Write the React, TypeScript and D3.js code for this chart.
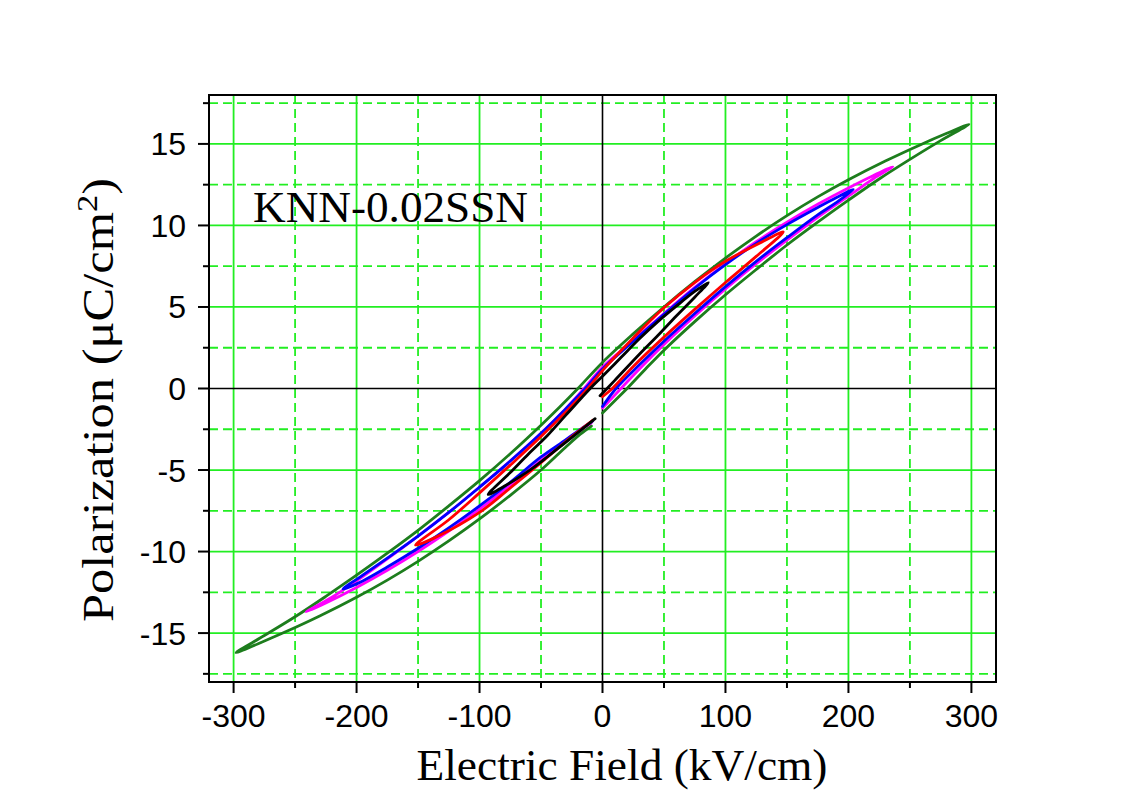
import React from "react";
import * as d3 from "d3";

type Pt = [number, number];

// Tick values (kV/cm and µC/cm²)
const xMajorTicks = [-300, -200, -100, 0, 100, 200, 300];
const xMinorTicks = [-250, -150, -50, 50, 150, 250];
const yMajorTicks = [-15, -10, -5, 0, 5, 10, 15];
const yMinorTicks = [-17.5, -12.5, -7.5, -2.5, 2.5, 7.5, 12.5, 17.5];

// Each P–E loop is recorded as: rise (0 → +Emax), fall (+Emax → −Emax), return (−Emax → 0)
const greenRise: Pt[] = [[0, -1.5], [10, -0.75], [20, 0], [35, 1.2], [50, 2.35], [75, 4.1], [100, 5.75], [125, 7.3], [150, 8.8], [175, 10.2], [200, 11.55], [225, 12.85], [250, 14.05], [275, 15.2], [298, 16.2]];
const greenFall: Pt[] = [[280, 15.65], [260, 15.0], [230, 13.95], [200, 12.8], [175, 11.75], [150, 10.6], [125, 9.35], [100, 8.0], [75, 6.55], [50, 5.0], [25, 3.35], [0, 1.6], [-20, 0], [-35, -1.15], [-50, -2.25], [-75, -4.0], [-100, -5.65], [-125, -7.2], [-150, -8.7], [-175, -10.1], [-200, -11.45], [-225, -12.75], [-250, -14.0], [-275, -15.15], [-298, -16.2]];
const greenReturn: Pt[] = [[-280, -15.65], [-260, -15.0], [-230, -13.95], [-200, -12.8], [-175, -11.75], [-150, -10.6], [-125, -9.35], [-100, -8.0], [-75, -6.55], [-50, -5.0], [-30, -3.6], [-18, -2.8], [-9, -2.3]];

const magentaRise: Pt[] = [[0, -1.2], [15, 0], [30, 1.2], [50, 2.7], [75, 4.45], [100, 6.1], [125, 7.65], [150, 9.1], [175, 10.5], [200, 11.8], [220, 12.85], [236, 13.6]];
const magentaFall: Pt[] = [[220, 13.05], [200, 12.3], [175, 11.3], [150, 10.2], [125, 9.0], [100, 7.65], [75, 6.2], [50, 4.6], [25, 2.95], [0, 1.3], [-15, 0], [-30, -1.25], [-50, -2.75], [-75, -4.45], [-100, -6.05], [-125, -7.6], [-150, -9.05], [-175, -10.45], [-200, -11.8], [-220, -12.8], [-241, -13.7]];
const magentaReturn: Pt[] = [[-225, -13.15], [-200, -12.2], [-175, -11.15], [-150, -10.0], [-125, -8.75], [-100, -7.4], [-75, -5.95], [-50, -4.4], [-30, -3.2], [-17, -2.5], [-9, -2.1]];

const blueRise: Pt[] = [[0, -1.1], [11, 0], [30, 1.45], [50, 2.9], [75, 4.6], [100, 6.25], [125, 7.8], [150, 9.25], [175, 10.65], [190, 11.4], [204, 12.2]];
const blueFall: Pt[] = [[190, 11.7], [175, 11.1], [150, 10.05], [125, 8.9], [100, 7.6], [75, 6.15], [50, 4.55], [25, 2.9], [0, 1.2], [-14, 0], [-30, -1.25], [-50, -2.75], [-75, -4.45], [-100, -6.05], [-125, -7.6], [-150, -9.05], [-175, -10.4], [-195, -11.45], [-211, -12.3]];
const blueReturn: Pt[] = [[-195, -11.8], [-175, -10.95], [-150, -9.8], [-125, -8.55], [-100, -7.2], [-75, -5.75], [-50, -4.2], [-30, -3.15], [-16, -2.4], [-8, -2.0]];

const redRise: Pt[] = [[0, -0.5], [8, 0], [25, 1.35], [50, 3.15], [75, 4.85], [100, 6.5], [125, 8.1], [147, 9.6]];
const redFall: Pt[] = [[130, 9.0], [100, 7.8], [75, 6.5], [50, 4.95], [25, 3.1], [0, 1.1], [-12, 0], [-30, -1.45], [-50, -2.95], [-75, -4.7], [-100, -6.4], [-125, -8.05], [-152, -9.6]];
const redReturn: Pt[] = [[-135, -9.1], [-100, -7.6], [-75, -6.1], [-50, -4.55], [-25, -2.95], [-8, -1.95]];

const blackRise: Pt[] = [[-2, -0.45], [10, 0.5], [30, 2.1], [45, 3.25], [60, 4.45], [75, 5.6], [86, 6.5]];
const blackFall: Pt[] = [[75, 5.95], [60, 5.05], [45, 4.1], [30, 3.05], [15, 1.9], [0, 0.75], [-10, 0], [-30, -1.65], [-45, -2.9], [-60, -4.0], [-75, -5.15], [-93, -6.5]];
const blackReturn: Pt[] = [[-80, -6.0], [-60, -5.05], [-45, -4.2], [-30, -3.3], [-15, -2.4], [-6, -1.85]];

const loops = [
  { name: "green", color: "#1d7d1d", pts: [...greenRise, ...greenFall, ...greenReturn] },
  { name: "magenta", color: "#ff00ff", pts: [...magentaRise, ...magentaFall, ...magentaReturn] },
  { name: "blue", color: "#0000ff", pts: [...blueRise, ...blueFall, ...blueReturn] },
  { name: "red", color: "#ff0000", pts: [...redRise, ...redFall, ...redReturn] },
  { name: "black", color: "#000000", pts: [...blackRise, ...blackFall, ...blackReturn] },
];

const W = 1143;
const H = 808;
const L = 209, R = 996, T = 95, B = 682;

const sans = "'Liberation Sans', Arial, sans-serif";
const serif = "'Liberation Serif', 'Times New Roman', serif";
const gridColor = "#22ee22";

export default function App() {
  const x = d3.scaleLinear().domain([-320, 320]).range([L, R]);
  const y = d3.scaleLinear().domain([-18, 18]).range([B, T]);
  const line = d3
    .line<Pt>()
    .x((d) => x(d[0]))
    .y((d) => y(d[1]))
    .curve(d3.curveCatmullRom.alpha(0.5));

  return (
    <svg
      width={W}
      height={H}
      style={{ position: "absolute", left: 0, top: 0, background: "#fff" }}
    >
      <defs>
        <clipPath id="plot">
          <rect x={L} y={T} width={R - L} height={B - T} />
        </clipPath>
      </defs>

      {/* grid */}
      <g stroke={gridColor} strokeWidth={1.8} fill="none">
        {xMajorTicks.filter((v) => v !== 0).map((v) => (
          <line key={"xg" + v} x1={x(v)} x2={x(v)} y1={T} y2={B} />
        ))}
        {yMajorTicks.filter((v) => v !== 0).map((v) => (
          <line key={"yg" + v} x1={L} x2={R} y1={y(v)} y2={y(v)} />
        ))}
        {xMinorTicks.map((v) => (
          <line key={"xm" + v} x1={x(v)} x2={x(v)} y1={T} y2={B} strokeDasharray="9,5" />
        ))}
        {yMinorTicks.map((v) => (
          <line key={"ym" + v} x1={L} x2={R} y1={y(v)} y2={y(v)} strokeDasharray="9,5" />
        ))}
      </g>

      {/* zero lines */}
      <g stroke="#000" strokeWidth={1.6}>
        <line x1={x(0)} x2={x(0)} y1={T} y2={B} />
        <line x1={L} x2={R} y1={y(0)} y2={y(0)} />
      </g>

      {/* hysteresis loops */}
      <g clipPath="url(#plot)" fill="none" strokeWidth={2.8} strokeLinejoin="round" strokeLinecap="round">
        {loops.map((l) => (
          <path key={l.name} d={line(l.pts) ?? ""} stroke={l.color} />
        ))}
      </g>

      {/* frame */}
      <rect x={L} y={T} width={R - L} height={B - T} fill="none" stroke="#000" strokeWidth={2} />

      {/* ticks */}
      <g stroke="#000" strokeWidth={2}>
        {xMajorTicks.map((v) => (
          <line key={"xt" + v} x1={x(v)} x2={x(v)} y1={B} y2={B + 11} />
        ))}
        {xMinorTicks.map((v) => (
          <line key={"xtm" + v} x1={x(v)} x2={x(v)} y1={B} y2={B + 6} />
        ))}
        {yMajorTicks.map((v) => (
          <line key={"yt" + v} x1={L} x2={L - 11} y1={y(v)} y2={y(v)} />
        ))}
        {yMinorTicks.map((v) => (
          <line key={"ytm" + v} x1={L} x2={L - 6} y1={y(v)} y2={y(v)} />
        ))}
      </g>

      {/* tick labels */}
      <g fontFamily={sans} fontSize={32} fill="#000">
        {xMajorTicks.map((v) => (
          <text key={"xl" + v} x={x(v)} y={727} textAnchor="middle">
            {v}
          </text>
        ))}
        {yMajorTicks.map((v) => (
          <text key={"yl" + v} x={186} y={y(v) + 11.5} textAnchor="end">
            {v}
          </text>
        ))}
      </g>

      {/* axis titles */}
      <text
        x={622}
        y={780}
        textAnchor="middle"
        fontFamily={serif}
        fontSize={44}
        fill="#000"
        textLength={411}
        lengthAdjust="spacingAndGlyphs"
      >
        Electric Field (kV/cm)
      </text>
      <text
        transform="translate(113,400) rotate(-90)"
        textAnchor="middle"
        fontFamily={serif}
        fontSize={44}
        fill="#000"
        textLength={444}
        lengthAdjust="spacingAndGlyphs"
      >
        Polarization (μC/cm
        <tspan fontSize={30} dy={-16}>2</tspan>
        <tspan dy={16}>)</tspan>
      </text>

      {/* sample label */}
      <text
        x={253}
        y={222}
        fontFamily={serif}
        fontSize={44}
        fill="#000"
        textLength={275}
        lengthAdjust="spacingAndGlyphs"
      >
        KNN-0.02SSN
      </text>
    </svg>
  );
}
